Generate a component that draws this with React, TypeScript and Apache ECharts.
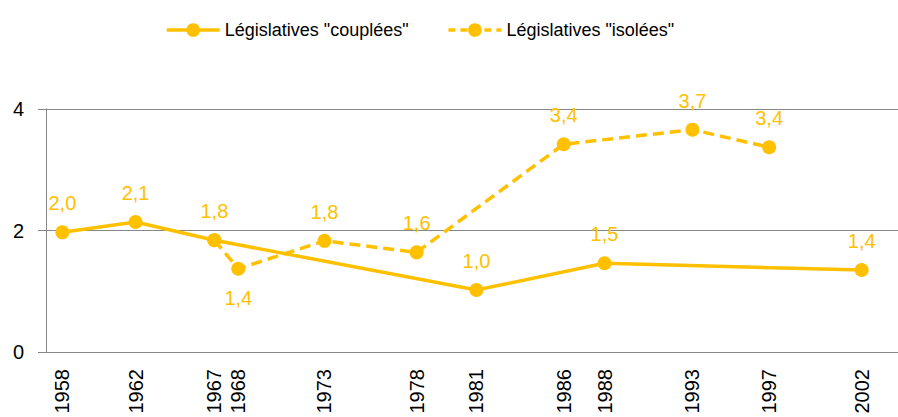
import React, { useEffect, useRef } from "react";
import * as echarts from "echarts";

// Election dates (first round) and average values
const couplDates = ["1958-11-23", "1962-11-18", "1967-03-05", "1981-06-14", "1988-06-05", "2002-06-09"];
const couplValues = [1.97, 2.14, 1.84, 1.02, 1.46, 1.35];

const isolDates = ["1967-03-05", "1968-06-23", "1973-03-04", "1978-03-12", "1986-03-16", "1993-03-21", "1997-05-25"];
const isolValues = [1.84, 1.37, 1.83, 1.64, 3.42, 3.66, 3.37];
// index of isolées points whose label is hidden (shared with couplées) / drawn below
const isolHiddenLabel = [0];
const isolBelowLabel = [1];

const seriesNames = ['Législatives "couplées"', 'Législatives "isolées"'];
const yMin = 0;
const yMax = 4;
const yInterval = 2;
const axisMin = "1958-01-01";
const axisMax = "2004-06-01";

const GOLD = "#FFC000";
const FONT = "Liberation Sans";

const ts = (d: string) => {
  const [y, m, day] = d.split("-").map(Number);
  return Date.UTC(y, m - 1, day);
};

const fmt = (v: number) => v.toFixed(1).replace(".", ",");

export default function App() {
  const ref = useRef<HTMLDivElement>(null);
  useEffect(() => {
    if (!ref.current) return;
    const chart = echarts.init(ref.current, null, { renderer: "svg" });
    const allDates = Array.from(new Set([...couplDates, ...isolDates])).map(ts).sort((a, b) => a - b);

    const labelBase = {
      show: true,
      position: "top" as const,
      distance: 12,
      color: GOLD,
      fontSize: 20,
      fontFamily: FONT,
      formatter: (p: any) => fmt(p.value[1]),
    };

    chart.setOption({
      animation: false,
      textStyle: { fontFamily: FONT },
      legend: {
        left: 160,
        top: 16,
        itemWidth: 53,
        itemHeight: 17,
        itemGap: 38,
        textStyle: { fontSize: 18, color: "#000", fontFamily: FONT },
        data: [
          { name: seriesNames[0], lineStyle: { width: 3.5, color: GOLD } },
          { name: seriesNames[1], lineStyle: { width: 3.5, color: GOLD, type: [7, 5] } },
        ],
      },
      grid: {
        left: 46,
        right: 0,
        top: 109,
        bottom: 65,
        containLabel: false,
        outerBoundsMode: "none",
      },
      xAxis: {
        type: "value",
        min: ts(axisMin),
        max: ts(axisMax),
        axisLine: { show: true, onZero: false, lineStyle: { color: "#878787", width: 1 } },
        axisTick: { show: false },
        splitLine: { show: false },
        axisLabel: {
          customValues: allDates,
          rotate: 90,
          margin: 17,
          fontSize: 20,
          fontFamily: FONT,
          color: "#000",
          hideOverlap: false,
          formatter: (v: number) => String(new Date(v).getUTCFullYear()),
        },
      },
      yAxis: {
        type: "value",
        min: yMin,
        max: yMax,
        interval: yInterval,
        axisLine: { show: true, onZero: false, lineStyle: { color: "#878787", width: 1 } },
        axisTick: { show: true, length: 8, inside: false, lineStyle: { color: "#878787" } },
        splitLine: { show: true, lineStyle: { color: "#878787", width: 1 } },
        axisLabel: { margin: 22, fontSize: 20, fontFamily: FONT, color: "#000" },
      },
      series: [
        {
          name: seriesNames[0],
          type: "line",
          symbol: "circle",
          symbolSize: 14,
          color: GOLD,
          lineStyle: { color: GOLD, width: 3.5 },
          itemStyle: { color: GOLD },
          label: labelBase,
          data: couplDates.map((d, i) => ({ value: [ts(d), couplValues[i]] })),
          z: 3,
        },
        {
          name: seriesNames[1],
          type: "line",
          symbol: "circle",
          symbolSize: 14,
          color: GOLD,
          lineStyle: { color: GOLD, width: 3.5, type: [11, 6] },
          itemStyle: { color: GOLD },
          label: labelBase,
          data: isolDates.map((d, i) => {
            const item: any = { value: [ts(d), isolValues[i]] };
            if (isolHiddenLabel.includes(i)) item.label = { show: false };
            if (isolBelowLabel.includes(i)) item.label = { position: "bottom" };
            return item;
          }),
          z: 2,
        },
      ],
    });
    return () => chart.dispose();
  }, []);
  return (
    <div
      ref={ref}
      style={{ position: "fixed", left: 0, top: 0, width: 898, height: 417, background: "#fff" }}
    />
  );
}
